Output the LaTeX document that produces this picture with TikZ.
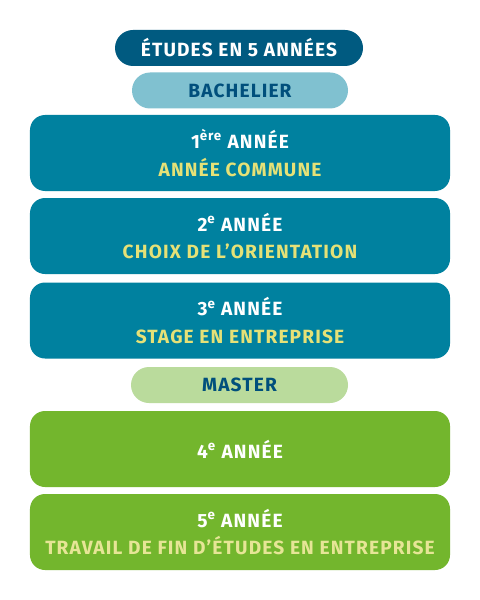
\documentclass[tikz,border=0pt]{standalone}
\usepackage{fontspec}
\setmainfont{Fira Sans}[LetterSpace=6]
\definecolor{navy}{HTML}{005A80}
\definecolor{lightblue}{HTML}{80C1D0}
\definecolor{teal}{HTML}{00819F}
\definecolor{lightgreen}{HTML}{BADB9C}
\definecolor{green}{HTML}{73B62D}
\definecolor{yel}{HTML}{E5E177}
\definecolor{paleyel}{HTML}{E6E596}
\definecolor{darktext}{HTML}{004F7C}
\tikzset{
  pill/.style={rounded corners=18bp, minimum height=36bp, inner sep=0pt,
    font=\bfseries\fontsize{19.2}{22}\selectfont},
  yearbox/.style={rounded corners=15bp, minimum width=420bp, minimum height=76bp,
    inner sep=0pt, align=center, text=white,
    font=\bfseries\fontsize{19.2}{28}\selectfont},
}
\begin{document}
\begin{tikzpicture}[x=1bp,y=-1bp]
\useasboundingbox[fill=white] (0,0) rectangle (480,600);
\node[pill, fill=navy, text=white, minimum width=248bp] (title) at (239,48) {ÉTUDES EN 5 ANNÉES};
\node[pill, fill=lightblue, text=darktext, minimum width=216bp] (bach) at (240,90.5) {BACHELIER};
\node[yearbox, fill=teal] (y1) at (240,153) {1\textsuperscript{ère} ANNÉE\\\textcolor{yel}{ANNÉE COMMUNE}};
\node[yearbox, fill=teal] (y2) at (240,236) {2\textsuperscript{e} ANNÉE\\\textcolor{yel}{CHOIX DE L’ORIENTATION}};
\node[yearbox, fill=teal] (y3) at (240,320.5) {3\textsuperscript{e} ANNÉE\\\textcolor{yel}{STAGE EN ENTREPRISE}};
\node[pill, fill=lightgreen, text=darktext, minimum width=217bp] (master) at (239.5,385) {MASTER};
\node[yearbox, fill=green] (y4) at (240,449) {4\textsuperscript{e} ANNÉE};
\node[yearbox, fill=green] (y5) at (240,532) {5\textsuperscript{e} ANNÉE\\\textcolor{paleyel}{TRAVAIL DE FIN D’ÉTUDES EN ENTREPRISE}};
\end{tikzpicture}
\end{document}
